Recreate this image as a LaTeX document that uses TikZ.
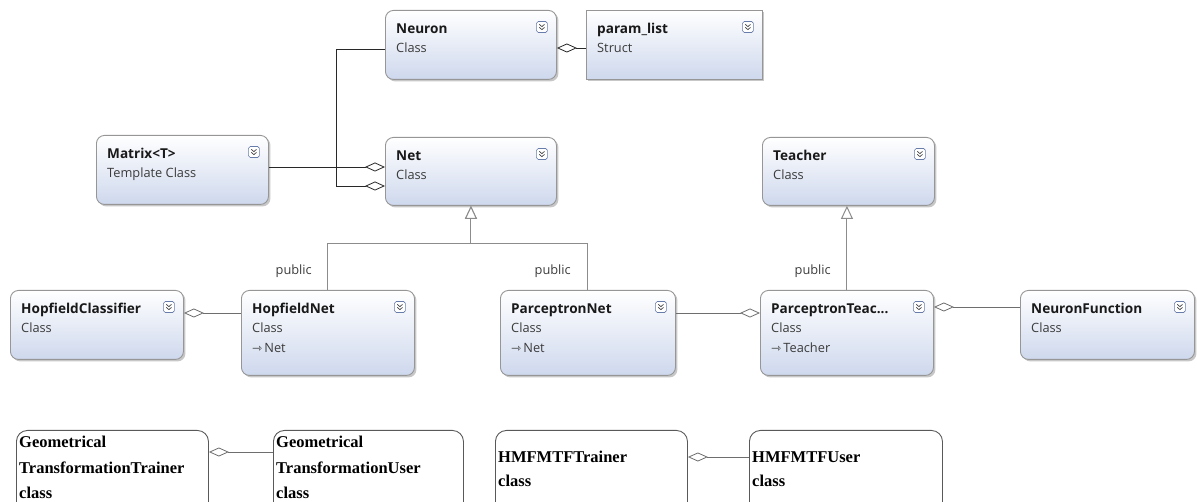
\documentclass[tikz,border=0pt]{standalone}
\usepackage{fontspec}
\setmainfont{Open Sans}
\newfontfamily\serifb{Liberation Serif}
\newfontfamily\symf{DejaVu Sans}
\usetikzlibrary{arrows.meta,shadows,calc}

\definecolor{boxblue}{RGB}{206,216,237}
\definecolor{boxedge}{RGB}{150,150,150}
\definecolor{linec}{RGB}{110,110,110}
\definecolor{linedark}{RGB}{40,40,40}
\definecolor{inhc}{RGB}{140,140,140}
\definecolor{txt}{RGB}{25,25,25}
\definecolor{iconedge}{RGB}{105,125,170}

\tikzset{
  umlbox/.style={draw=boxedge, line width=0.9pt, rounded corners=8pt,
    top color=white, bottom color=boxblue, inner sep=0pt, anchor=north west,
    drop shadow={shadow xshift=2pt, shadow yshift=-2pt, fill=black, opacity=0.22}},
  plainbox/.style={draw=black!65, line width=0.9pt, rounded corners=11pt,
    fill=white, inner sep=0pt, anchor=north west},
  ttl/.style={anchor=base west, inner sep=0pt, text=txt,
    font=\bfseries\fontsize{13.6}{15}\selectfont},
  sub/.style={anchor=base west, inner sep=0pt, text=txt!85,
    font=\fontsize{12.8}{14}\selectfont},
  pub/.style={anchor=base east, inner sep=0pt, text=txt!85,
    font=\fontsize{12.8}{14}\selectfont},
  btxt/.style={anchor=base west, inner sep=0pt, text=black,
    font=\serifb\bfseries\fontsize{16.5}{18}\selectfont},
  agg/.style={draw=linec, line width=0.8pt,
    arrows={{Diamond[fill=white, length=20pt, width=9pt, line width=0.8pt]}-}},
  aggd/.style={agg, draw=linedark},
  inh/.style={draw=inhc, line width=1pt,
    arrows={-{Triangle[fill=white, length=13pt, width=12pt, line width=1pt]}}},
}

% #1 extra style, #2 name, #3 x, #4 y, #5 w, #6 h, #7 title, #8 subtitle
\newcommand{\umlcls}[8][]{%
  \node[umlbox, minimum width=#5pt, minimum height=#6pt, #1] (#2) at (#3,#4) {};
  \node[ttl] (#2-t) at ($(#2.north west)+(11,24)$) {#7};
  \node[sub] (#2-s) at ($(#2.north west)+(11,43)$) {#8};
  \coordinate (#2-ic) at ($(#2.north east)+(-15,17)$);
  \draw[iconedge, fill=white, rounded corners=1.8pt, line width=0.6pt]
    ($(#2-ic)+(-5.5,-5.5)$) rectangle ($(#2-ic)+(5.5,5.5)$);
  \draw[black!75, line width=0.7pt]
    ($(#2-ic)+(-2.6,-2.6)$) -- ($(#2-ic)+(0,-0.4)$) -- ($(#2-ic)+(2.6,-2.6)$)
    ($(#2-ic)+(-2.6,0.4)$) -- ($(#2-ic)+(0,2.6)$) -- ($(#2-ic)+(2.6,0.4)$);
}
\newcommand{\umlbase}[2]{%
  \node[sub] (#1-b) at ($(#1.north west)+(11,63)$) {{\symf\fontsize{12}{12}\selectfont ⇾}\,#2};
}

\begin{document}
\begin{tikzpicture}[x=1pt, y=-1pt]
\useasboundingbox (0,0) rectangle (1197,502);
\clip (0,0) rectangle (1197,502);

% classes
\umlcls{neuron}{385}{10}{171}{69}{Neuron}{Class}
\umlcls[sharp corners]{param}{586}{10}{176}{69}{param\_list}{Struct}
\umlcls{matrix}{96}{135}{172}{69}{Matrix<T>}{Template Class}
\umlcls{net}{385}{137}{171}{68}{Net}{Class}
\umlcls{teacher}{762}{137}{172}{68}{Teacher}{Class}
\umlcls{hc}{10}{290}{173}{69}{HopfieldClassifier}{Class}
\umlcls{hopnet}{241}{290}{173}{85}{HopfieldNet}{Class}
\umlbase{hopnet}{Net}
\umlcls{parnet}{500}{290}{175}{85}{ParceptronNet}{Class}
\umlbase{parnet}{Net}
\umlcls{parteach}{760}{290}{173}{85}{ParceptronTeac...}{Class}
\umlbase{parteach}{Teacher}
\umlcls{nf}{1020}{290}{174}{69}{NeuronFunction}{Class}

% aggregations
\draw[aggd] (neuron.east |- 0,48) -- (param.west |- 0,48);
\draw[aggd] (net.west |- 0,167) -- (matrix.east |- 0,167);
\draw[aggd] (net.west |- 0,186) -- (336,186) -- (336,49) -- (neuron.west |- 0,49);
\draw[agg] (hc.east |- 0,313) -- (hopnet.west |- 0,313);
\draw[agg] (parteach.west |- 0,313) -- (parnet.east |- 0,313);
\draw[agg] (parteach.east |- 0,307) -- (nf.west |- 0,307);

% inheritance
\draw[inh] (hopnet.north) |- ($(net.south)+(0,38)$) -- (net.south);
\draw[inh] (parnet.north) |- ($(net.south)+(0,38)$) -- (net.south);
\draw[inh] (parteach.north) -- (parteach.north |- teacher.south);
\node[pub] (pub1) at (312,275) {public};
\node[pub] (pub2) at (571,275) {public};
\node[pub] (pub3) at (831,275) {public};

% bottom row
\node[plainbox, minimum width=192pt, minimum height=95pt] (gtt) at (16,430) {};
\node[plainbox, minimum width=190pt, minimum height=95pt] (gtu) at (273,430) {};
\node[plainbox, minimum width=192pt, minimum height=95pt] (hmt) at (495,430) {};
\node[plainbox, minimum width=193pt, minimum height=95pt] (hmu) at (749,430) {};
\node[btxt] (gtt-1) at (19,447) {Geometrical};
\node[btxt] (gtt-2) at (19,473) {TransformationTrainer};
\node[btxt] (gtt-3) at (19,498) {class};
\node[btxt] (gtu-1) at (276,447) {Geometrical};
\node[btxt] (gtu-2) at (276,473) {TransformationUser};
\node[btxt] (gtu-3) at (276,498) {class};
\node[btxt] (hmt-1) at (498,462) {HMFMTFTrainer};
\node[btxt] (hmt-2) at (498,486) {class};
\node[btxt] (hmu-1) at (752,462) {HMFMTFUser};
\node[btxt] (hmu-2) at (752,486) {class};
\draw[agg] (gtt.east |- 0,452) -- (gtu.west |- 0,452);
\draw[agg] (hmt.east |- 0,457) -- (hmu.west |- 0,457);
\end{tikzpicture}
\end{document}
